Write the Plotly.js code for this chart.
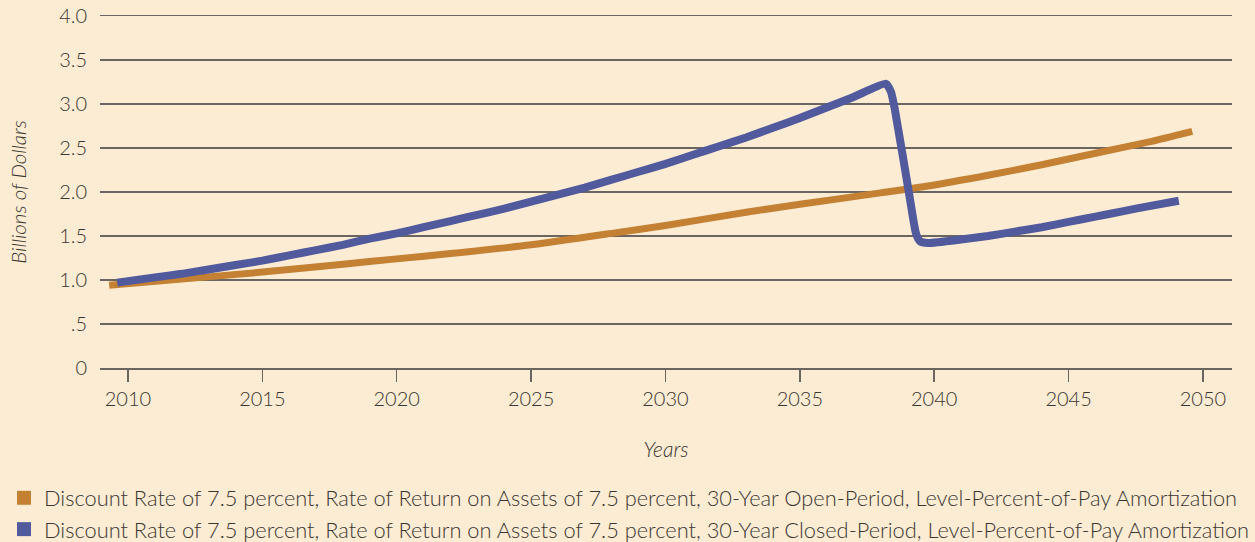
<!DOCTYPE html>
<html>
<head>
<meta charset="utf-8">
<script src="https://cdn.plot.ly/plotly-3.0.1.min.js"></script>
<style>
  html, body { margin: 0; padding: 0; background: #fcecd4; }
  #chart { width: 1255px; height: 542px; }
</style>
</head>
<body>
<div id="chart"></div>
<script>
// Open-period series (orange)
const openYears = [2009.3, 2012, 2015, 2018, 2020, 2022, 2025, 2028, 2030, 2033, 2035, 2038, 2040, 2042, 2044, 2046, 2048, 2049.6];
const openValues = [0.94, 1.01, 1.09, 1.18, 1.24, 1.30, 1.40, 1.53, 1.62, 1.77, 1.86, 1.99, 2.08, 2.19, 2.31, 2.44, 2.57, 2.69];

// Closed-period series (blue)
const closedYears = [2009.6, 2011, 2012, 2013, 2014, 2015, 2016, 2017, 2018, 2019, 2020, 2021, 2022, 2023, 2024, 2025, 2026, 2027, 2028, 2029, 2030, 2031, 2032, 2033, 2034, 2035, 2036, 2037, 2038.2, 2038.39, 2038.54, 2039.06, 2039.32, 2039.47, 2039.77, 2041, 2042, 2043, 2044, 2045, 2046, 2047, 2048, 2049.1];
const closedValues = [0.97, 1.03, 1.07, 1.12, 1.17, 1.22, 1.28, 1.34, 1.40, 1.47, 1.53, 1.60, 1.67, 1.74, 1.81, 1.89, 1.97, 2.05, 2.14, 2.23, 2.32, 2.42, 2.52, 2.62, 2.73, 2.84, 2.96, 3.08, 3.23, 3.14, 2.93, 1.99, 1.53, 1.44, 1.42, 1.46, 1.50, 1.55, 1.60, 1.66, 1.72, 1.78, 1.84, 1.90];

const seriesNames = [
  'Discount Rate of 7.5 percent, Rate of Return on Assets of 7.5 percent, 30-Year Open-Period, Level-Percent-of-Pay Amortization',
  'Discount Rate of 7.5 percent, Rate of Return on Assets of 7.5 percent, 30-Year Closed-Period, Level-Percent-of-Pay Amortization'
];
const seriesColors = ['#c48134', '#525a9e'];

const yTickVals = [0, 0.5, 1, 1.5, 2, 2.5, 3, 3.5, 4];
const yTickText = ['0', '.5', '1.0', '1.5', '2.0', '2.5', '3.0', '3.5', '4.0'];
const xTickVals = [2010, 2015, 2020, 2025, 2030, 2035, 2040, 2045, 2050];

const bg = '#fcecd4';
const gridColor = '#6a665f';
const textColor = '#3a3632';
const fontFam = 'Lato, "Open Sans", sans-serif';

const traces = [
  { x: openYears, y: openValues, mode: 'lines', line: { color: seriesColors[0], width: 7, shape: 'spline', smoothing: 0.6 }, showlegend: false, hoverinfo: 'skip' },
  { x: closedYears, y: closedValues, mode: 'lines', line: { color: seriesColors[1], width: 8, shape: 'spline', smoothing: 0.5 }, showlegend: false, hoverinfo: 'skip' },
  { x: [null], y: [null], mode: 'markers', name: seriesNames[0], marker: { symbol: 'square', size: 14, color: seriesColors[0] } },
  { x: [null], y: [null], mode: 'markers', name: seriesNames[1], marker: { symbol: 'square', size: 14, color: seriesColors[1] } }
];

const layout = {
  width: 1255, height: 542,
  paper_bgcolor: bg, plot_bgcolor: bg,
  font: { family: fontFam, color: textColor, size: 20, weight: 300 },
  margin: { l: 100, r: 23, t: 16, b: 174, autoexpand: false },
  xaxis: {
    range: [2008.96, 2051.08],
    tickvals: xTickVals,
    ticks: 'outside', ticklen: 12, tickwidth: 1.5, tickcolor: gridColor,
    showgrid: false, zeroline: false,
    showline: true, mirror: true, linecolor: gridColor, linewidth: 1.5,
    tickfont: { size: 20, color: textColor, weight: 300 },
    title: { text: 'Years', font: { size: 21, color: textColor, family: fontFam, style: 'italic', weight: 300 }, standoff: 34 }
  },
  yaxis: {
    range: [0, 4.0],
    tickvals: yTickVals, ticktext: yTickText,
    showgrid: true, gridcolor: gridColor, gridwidth: 1.5,
    zeroline: false, showline: false, ticks: '',
    ticklabelstandoff: 12,
    tickfont: { size: 20, color: textColor, weight: 300 },
    title: { text: 'Billions of Dollars', font: { size: 20.5, color: textColor, family: fontFam, style: 'italic', weight: 300 }, standoff: 26 }
  },
  legend: {
    x: -0.0848, xanchor: 'left', y: -0.31, yanchor: 'top',
    orientation: 'v', bgcolor: 'rgba(0,0,0,0)',
    font: { size: 21.8, color: textColor, family: fontFam, weight: 300 },
    tracegroupgap: 0, itemwidth: 30
  },
  showlegend: true
};

Plotly.newPlot('chart', traces, layout, { staticPlot: true, displayModeBar: false });
</script>
</body>
</html>
